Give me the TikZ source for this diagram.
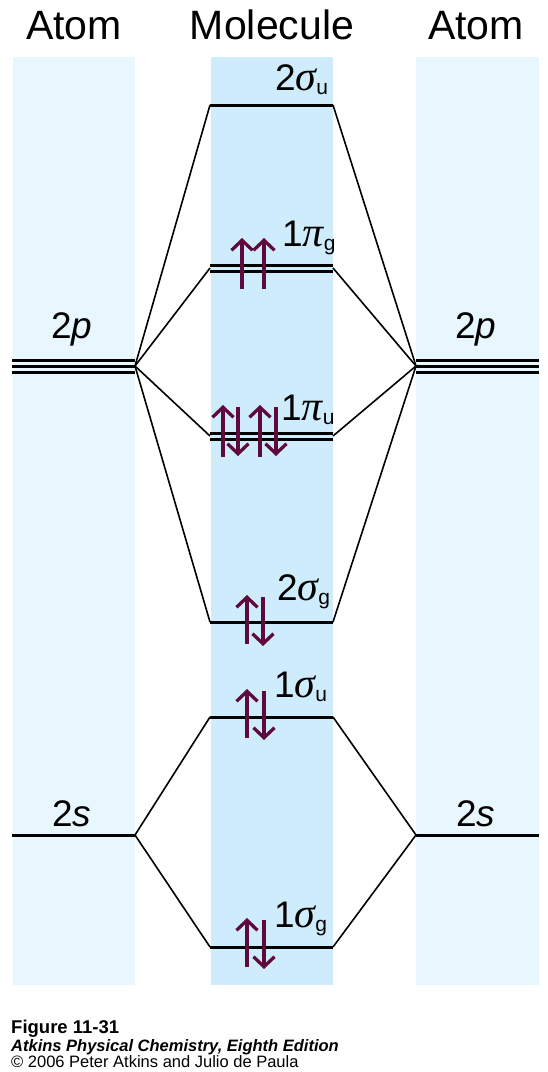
\documentclass[tikz,border=0pt]{standalone}
\usepackage{fontspec}
\setmainfont{Liberation Sans}
\newfontfamily\grk{Liberation Serif}
\usetikzlibrary{arrows.meta}
\definecolor{bandout}{RGB}{232,246,253}
\definecolor{bandmid}{RGB}{206,236,251}
\definecolor{spin}{RGB}{95,10,60}
\newcommand\lvlab[3]{#1{\grk\itshape\fontsize{42}{42}\selectfont #2}\raisebox{-4pt}{\fontsize{21}{21}\selectfont #3}}
\begin{document}
\begin{tikzpicture}[x=1pt,y=-1pt,
  level/.style={line width=3pt},
  conn/.style={line width=1.6pt},
  head/.style={font=\fontsize{41}{43}\selectfont, anchor=base},
  lab/.style={font=\fontsize{37}{40}\selectfont, anchor=base west, inner sep=0pt},
  captext/.style={anchor=base west, inner sep=0pt},
  up/.style={spin, line width=3.3pt, -{Straight Barb[length=10pt,width=21pt]}},
  dn/.style={spin, line width=3.3pt, -{Straight Barb[length=10pt,width=21pt]}}]
\useasboundingbox (0,0) rectangle (548,1072);
\fill[white] (0,0) rectangle (548,1072);
% bands
\fill[bandout] (13,57) rectangle (135,985);
\fill[bandmid] (211,57) rectangle (333,985);
\fill[bandout] (416,57) rectangle (539,985);
% headings
\node[head] (hA1) at (74,39) {Atom};
\node[head] (hM) at (272,39) {Molecule};
\node[head] (hA2) at (476,39) {Atom};
% level end points
\coordinate (pL) at (135,366); \coordinate (pR) at (416,366);
\coordinate (sL) at (135,835); \coordinate (sR) at (416,835);
\coordinate (su2L) at (210,105); \coordinate (su2R) at (333,105);
\coordinate (pigL) at (210,268); \coordinate (pigR) at (333,268);
\coordinate (piuL) at (210,436); \coordinate (piuR) at (333,436);
\coordinate (sg2L) at (210,622); \coordinate (sg2R) at (333,622);
\coordinate (su1L) at (210,717); \coordinate (su1R) at (333,717);
\coordinate (sg1L) at (210,947); \coordinate (sg1R) at (333,947);
% atomic levels
\foreach \yy in {360,366,372}{
  \draw[level] (12,\yy) -- (135,\yy);
  \draw[level] (416,\yy) -- (539,\yy);
}
\draw[level] (12,835) -- (sL);
\draw[level] (sR) -- (539,835);
% molecular levels
\draw[level] (su2L) -- (su2R);
\draw[level] (210,265) -- (333,265);
\draw[level] (210,271) -- (333,271);
\draw[level] (210,433) -- (333,433);
\draw[level] (210,439) -- (333,439);
\draw[level] (sg2L) -- (sg2R);
\draw[level] (su1L) -- (su1R);
\draw[level] (sg1L) -- (sg1R);
% connectors
\foreach \t in {su2,pig,piu,sg2}{
  \draw[conn] (pL) -- (\t L);
  \draw[conn] (pR) -- (\t R);
}
\foreach \t in {su1,sg1}{
  \draw[conn] (sL) -- (\t L);
  \draw[conn] (sR) -- (\t R);
}
% labels
\node[lab] (l2p) at (51,338) {2\textit{p}};
\node[lab] (r2p) at (455,338) {2\textit{p}};
\node[lab] (l2s) at (52,826) {2\textit{s}};
\node[lab] (r2s) at (456,826) {2\textit{s}};
\node[lab] (tsu2) at (275,90) {\lvlab{2}{σ}{u}};
\node[lab] (tpig) at (282,246) {\lvlab{1}{π}{g}};
\node[lab] (tpiu) at (281,420) {\lvlab{1}{π}{u}};
\node[lab] (tsg2) at (277,600) {\lvlab{2}{σ}{g}};
\node[lab] (tsu1) at (274,697) {\lvlab{1}{σ}{u}};
\node[lab] (tsg1) at (274,927) {\lvlab{1}{σ}{g}};
% electrons
\draw[up] (242,289) -- (242,238);
\draw[up] (264,289) -- (264,238);
\draw[up] (223,457) -- (223,405);
\draw[dn] (238,407) -- (238,456);
\draw[up] (260,457) -- (260,405);
\draw[dn] (276,407) -- (276,456);
\draw[up] (247,644) -- (247,595);
\draw[dn] (263,597) -- (263,646);
\draw[up] (247,738) -- (247,689);
\draw[dn] (264,691) -- (264,740);
\draw[up] (247,967) -- (247,918);
\draw[dn] (264,920) -- (264,969);
% caption
\node[captext] (c1) at (11,1033) {\fontsize{18.5}{18}\selectfont\bfseries Figure 11-31};
\node[captext] (c2) at (11,1051) {\fontsize{16.5}{18}\selectfont\bfseries\itshape Atkins Physical Chemistry, Eighth Edition};
\node[captext] (c3) at (11,1067) {\fontsize{16.5}{18}\selectfont © 2006 Peter Atkins and Julio de Paula};
\end{tikzpicture}
\end{document}
